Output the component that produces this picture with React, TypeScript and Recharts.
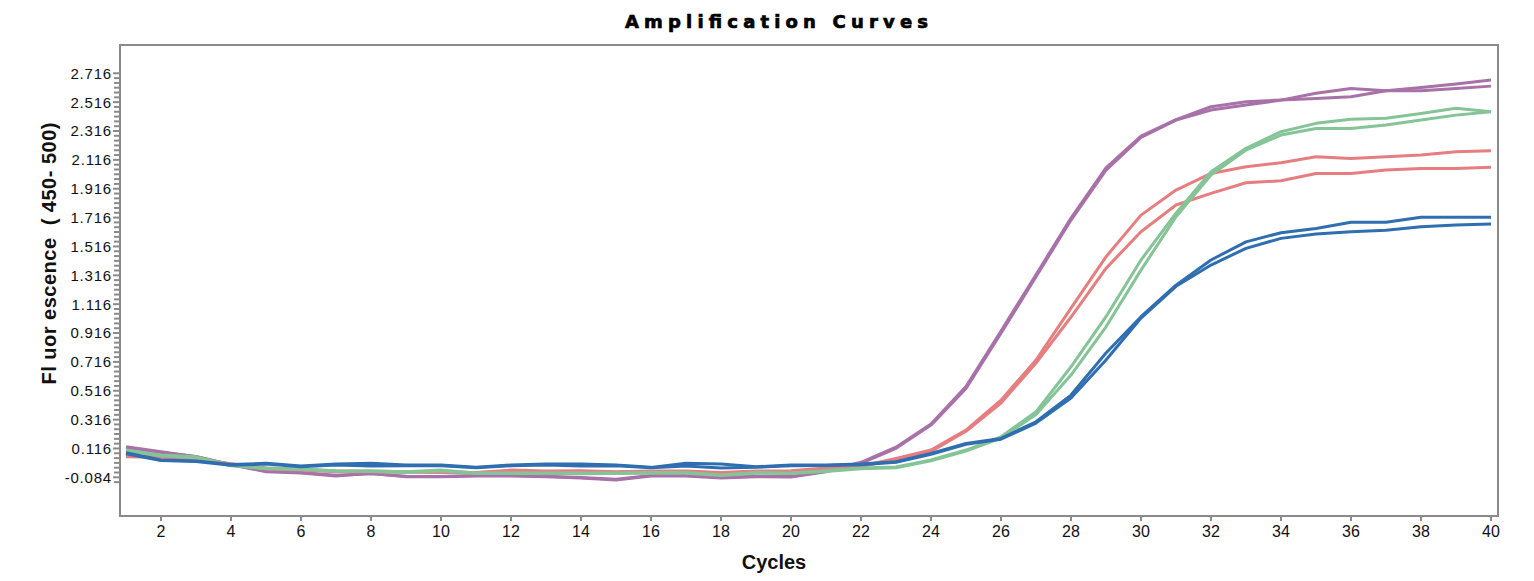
import { Line, LineChart, XAxis, YAxis } from "recharts";

const CYCLES = [
  1, 2, 3, 4, 5, 6, 7, 8, 9, 10, 11, 12, 13, 14, 15, 16, 17, 18, 19, 20,
  21, 22, 23, 24, 25, 26, 27, 28, 29, 30, 31, 32, 33, 34, 35, 36, 37, 38, 39, 40,
];

const PURPLE_A = [
  0.128, 0.093, 0.058, 0.005, -0.045, -0.054, -0.075, -0.056, -0.08, -0.08,
  -0.075, -0.075, -0.08, -0.089, -0.103, -0.075, -0.075, -0.089, -0.08, -0.082,
  -0.045, 0.013, 0.117, 0.278, 0.532, 0.914, 1.306, 1.699, 2.045, 2.272,
  2.392, 2.461, 2.496, 2.53, 2.542, 2.553, 2.595, 2.618, 2.641, 2.669,
];
const PURPLE_B = [
  0.122, 0.088, 0.06, 0.002, -0.04, -0.05, -0.07, -0.06, -0.076, -0.078,
  -0.072, -0.07, -0.076, -0.085, -0.098, -0.072, -0.07, -0.084, -0.076, -0.078,
  -0.04, 0.02, 0.125, 0.285, 0.545, 0.93, 1.32, 1.712, 2.06, 2.28,
  2.395, 2.484, 2.519, 2.53, 2.577, 2.611, 2.595, 2.595, 2.611, 2.627,
];
const RED_A = [
  0.062, 0.06, 0.045, 0.01, -0.02, -0.03, -0.04, -0.04, -0.045, -0.045,
  -0.05, -0.034, -0.04, -0.039, -0.045, -0.04, -0.04, -0.05, -0.04, -0.039,
  -0.02, -0.006, 0.047, 0.105, 0.243, 0.451, 0.729, 1.089, 1.444, 1.733,
  1.907, 2.022, 2.068, 2.096, 2.137, 2.126, 2.137, 2.149, 2.172, 2.179,
];
const RED_B = [
  0.058, 0.055, 0.04, 0.008, -0.025, -0.034, -0.045, -0.045, -0.048, -0.05,
  -0.052, -0.04, -0.045, -0.042, -0.05, -0.045, -0.044, -0.054, -0.045, -0.044,
  -0.025, -0.01, 0.04, 0.095, 0.235, 0.431, 0.708, 1.027, 1.364, 1.618,
  1.803, 1.884, 1.957, 1.971, 2.022, 2.022, 2.045, 2.057, 2.057, 2.064,
];
const GREEN_A = [
  0.105, 0.07, 0.058, 0.0, -0.02, -0.027, -0.039, -0.04, -0.045, -0.034,
  -0.054, -0.054, -0.054, -0.054, -0.054, -0.05, -0.05, -0.068, -0.05, -0.054,
  -0.039, -0.02, -0.013, 0.036, 0.105, 0.197, 0.37, 0.682, 1.029, 1.422,
  1.747, 2.033, 2.196, 2.311, 2.369, 2.397, 2.404, 2.438, 2.473, 2.449,
];
const GREEN_B = [
  0.1, 0.066, 0.052, -0.004, -0.024, -0.03, -0.042, -0.044, -0.05, -0.04,
  -0.058, -0.058, -0.058, -0.06, -0.058, -0.055, -0.055, -0.072, -0.055, -0.058,
  -0.044, -0.024, -0.017, 0.03, 0.098, 0.188, 0.352, 0.625, 0.959, 1.352,
  1.722, 2.011, 2.184, 2.288, 2.334, 2.334, 2.357, 2.392, 2.426, 2.449,
];
const BLUE_A = [
  0.086, 0.036, 0.03, 0.005, 0.013, -0.006, 0.008, 0.013, 0.001, 0.001,
  -0.015, 0.001, 0.008, 0.008, 0.001, -0.015, 0.013, 0.008, -0.01, 0.001,
  0.001, 0.008, 0.024, 0.082, 0.151, 0.186, 0.301, 0.486, 0.777, 1.029,
  1.248, 1.422, 1.548, 1.611, 1.641, 1.683, 1.683, 1.718, 1.718, 1.718,
];
const BLUE_B = [
  0.08, 0.032, 0.026, 0.0, 0.008, -0.01, 0.002, -0.006, -0.004, -0.004,
  -0.018, -0.004, 0.002, -0.006, -0.004, -0.018, -0.006, -0.02, -0.014, -0.004,
  -0.002, 0.004, 0.02, 0.076, 0.145, 0.18, 0.292, 0.465, 0.729, 1.02,
  1.24, 1.387, 1.503, 1.572, 1.602, 1.618, 1.628, 1.652, 1.664, 1.671,
];

const X_TICKS = [2, 4, 6, 8, 10, 12, 14, 16, 18, 20, 22, 24, 26, 28, 30, 32, 34, 36, 38, 40];
const Y_MAJOR = [-0.084, 0.116, 0.316, 0.516, 0.716, 0.916, 1.116, 1.316, 1.516, 1.716, 1.916, 2.116, 2.316, 2.516, 2.716];

// 6 minor steps per major step, plus one below the lowest label
const Y_TICKS = (() => {
  const out: number[] = [Y_MAJOR[0] - 0.2 / 6];
  Y_MAJOR.forEach((m, i) => {
    out.push(m);
    if (i < Y_MAJOR.length - 1) for (let k = 1; k < 6; k++) out.push(m + (0.2 * k) / 6);
  });
  return out;
})();

const SERIES = [
  { key: "pa", data: PURPLE_A, color: "#a871a8" },
  { key: "pb", data: PURPLE_B, color: "#a871a8" },
  { key: "ra", data: RED_A, color: "#e67e80" },
  { key: "rb", data: RED_B, color: "#e67e80" },
  { key: "ga", data: GREEN_A, color: "#85c497" },
  { key: "gb", data: GREEN_B, color: "#85c497" },
  { key: "ba", data: BLUE_A, color: "#2f6eb0" },
  { key: "bb", data: BLUE_B, color: "#2f6eb0" },
];

const rows = CYCLES.map((c, i) => {
  const r: Record<string, number> = { cycle: c };
  SERIES.forEach((s) => (r[s.key] = s.data[i]));
  return r;
});

const AXIS_GRAY = "#8a8a8a";
const FONT = "'Liberation Sans', Arial, Helvetica, sans-serif";

function YTick({ x, y, payload }: any) {
  const v = payload.value as number;
  const major = Y_MAJOR.some((m) => Math.abs(m - v) < 1e-6);
  return (
    <g>
      <line x1={x - (major ? 7 : 6)} x2={x - 1} y1={y} y2={y} stroke={AXIS_GRAY} strokeWidth={2} />
      {major && (
        <text
          x={x - 8}
          y={y}
          dy="0.36em"
          textAnchor="end"
          fontFamily={FONT}
          fontSize={15}
          letterSpacing={0.8}
          fill="#111"
        >
          {v.toFixed(3)}
        </text>
      )}
    </g>
  );
}

export default function App() {
  return (
    <div style={{ position: "absolute", left: 0, top: 0, width: 1534, height: 581, background: "#fff" }}>
      <LineChart width={1534} height={581} data={rows} margin={{ top: 45, right: 36, bottom: 0, left: 0 }}>
        <XAxis
          dataKey="cycle"
          type="number"
          domain={[0.829, 40.2]}
          allowDataOverflow
          ticks={X_TICKS}
          interval={0}
          height={65}
          axisLine={false}
          tickSize={5}
          tickMargin={5}
          tickLine={{ stroke: AXIS_GRAY, strokeWidth: 2 }}
          tick={{ fontFamily: FONT, fontSize: 16, fill: "#111" }}
        />
        <YAxis
          type="number"
          domain={[-0.352, 2.912]}
          allowDataOverflow
          ticks={Y_TICKS}
          interval={0}
          width={120}
          axisLine={false}
          tickLine={false}
          tickSize={0}
          tickMargin={0}
          tick={(p: any) => <YTick {...p} />}
        />
        {SERIES.map((s) => (
          <Line
            key={s.key}
            dataKey={s.key}
            type="linear"
            stroke={s.color}
            strokeWidth={3}
            strokeLinejoin="round"
            dot={false}
            activeDot={false}
            isAnimationActive={false}
          />
        ))}
      </LineChart>

      {/* plot frame */}
      <div
        style={{
          position: "absolute",
          left: 119,
          top: 44,
          width: 1380,
          height: 473,
          border: `2px solid ${AXIS_GRAY}`,
          boxSizing: "border-box",
          pointerEvents: "none",
        }}
      />

      <svg width={1534} height={581} style={{ position: "absolute", left: 0, top: 0, pointerEvents: "none" }}>
        <text
          x={776.5}
          y={28}
          textAnchor="middle"
          fontFamily="'DejaVu Sans', sans-serif"
          fontWeight="bold"
          fontSize={18}
          textLength={303}
          lengthAdjust="spacing"
          stroke="#000"
          strokeWidth={0.7}
          fill="#000"
        >
          Amplification Curves
        </text>
        <text
          x={774}
          y={569}
          textAnchor="middle"
          fontFamily={FONT}
          fontWeight="bold"
          fontSize={20}
          fill="#111"
        >
          Cycles
        </text>
        <text
          x={55.5}
          y={253.5}
          textAnchor="middle"
          transform="rotate(-90 55.5 253.5)"
          fontFamily={FONT}
          fontWeight="bold"
          fontSize={20}
          textLength={262}
          lengthAdjust="spacing"
          fill="#111"
          style={{ whiteSpace: "pre" }}
        >
          {"Fl uor escence  ( 450- 500)"}
        </text>
      </svg>
    </div>
  );
}
